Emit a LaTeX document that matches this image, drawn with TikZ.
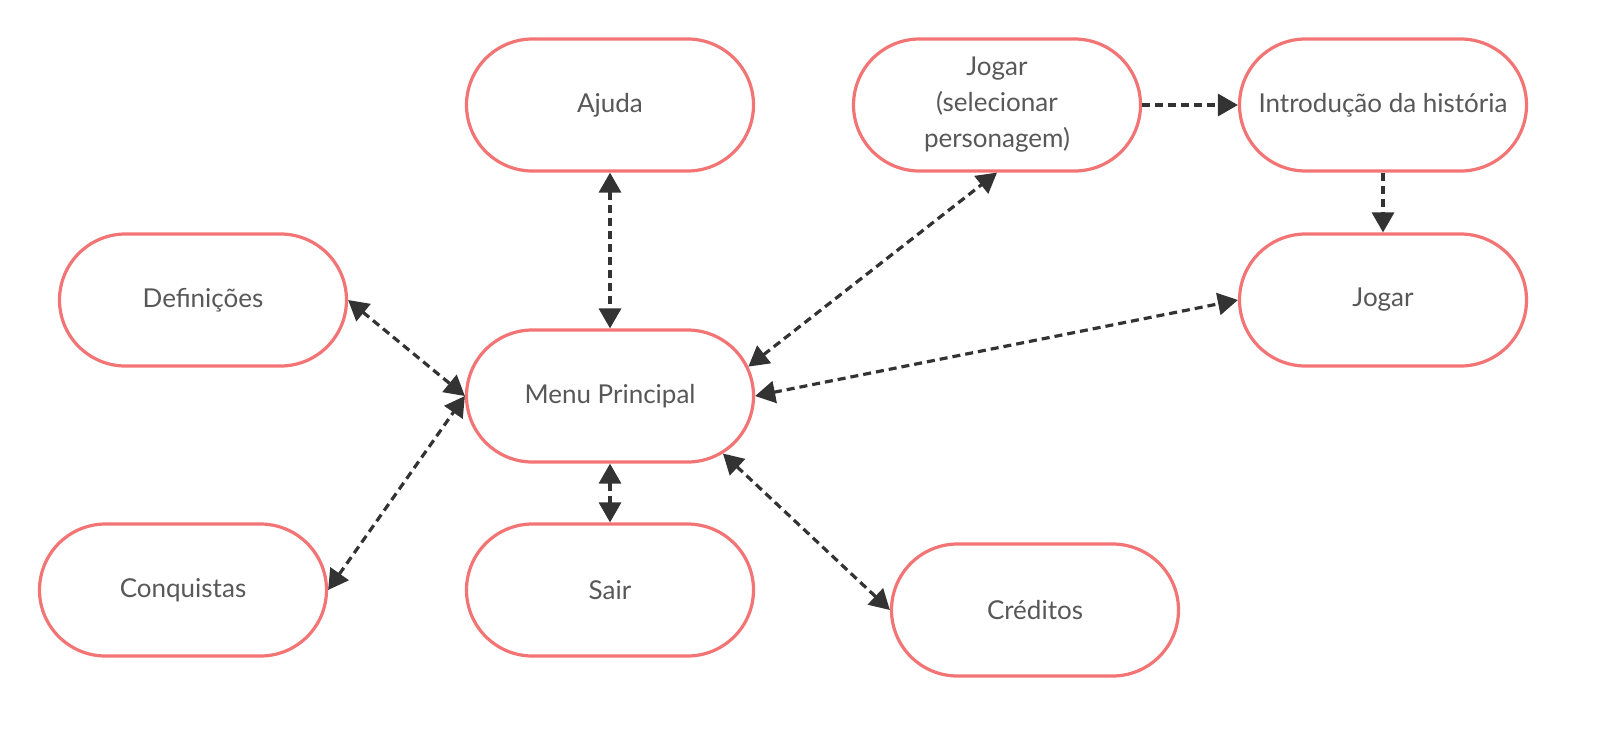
\documentclass[tikz,border=0pt]{standalone}
\usepackage{fontspec}
\setmainfont{Lato}
\usetikzlibrary{shapes.misc}
\usetikzlibrary{arrows.meta}
\definecolor{emph1}{RGB}{242,116,116}
\definecolor{emph2}{RGB}{51,51,51}
\definecolor{txt}{RGB}{88,88,88}

\begin{document}
\begin{tikzpicture}[x=0.5pt,y=-0.5pt,
    state/.style={rounded rectangle,draw=emph1,line width=1.6pt,fill=white,
      minimum width=143.5pt,minimum height=66pt,inner sep=0pt,align=center,
      text=txt,font=\fontsize{13}{18}\selectfont},
    link/.style={emph2,line width=1.6pt,dash pattern=on 4pt off 2.5pt,
      {Triangle[length=10pt,width=11pt]}-{Triangle[length=10pt,width=11pt]}},
    flow/.style={emph2,line width=1.6pt,dash pattern=on 4pt off 2.5pt,
      -{Triangle[length=10pt,width=11pt]}}]
  \def\bgx{0}
  \def\bgxx{1620}
  \def\bgy{0}
  \def\bgyy{740}
  \useasboundingbox (\bgx,\bgy)rectangle(\bgxx,\bgyy);
        \node[state] (ajuda) at (610,105) {Ajuda};
        \node[state] (jogsel) at (997,105) {Jogar\\(selecionar\\personagem)};
        \node[state] (intro) at (1383,105) {Introdução da história};
        \node[state] (defin) at (203,300) {Definições};
        \node[state] (jogar) at (1383,300) {Jogar};
        \node[state] (menu) at (610,396) {Menu Principal};
        \node[state] (conq) at (183,590) {Conquistas};
        \node[state] (sair) at (610,590) {Sair};
        \node[state] (cred) at (1035,610) {Créditos};
        % ligacoes do menu
        \draw[link] (ajuda.south) -- (menu.north);
        \draw[link] (defin.east) -- (menu.west);
        \draw[link] (conq.east) -- (menu.west);
        \draw[link] (menu.south) -- (sair.north);
        \draw[link] (menu.12) -- (jogsel.south);
        \draw[link] (menu.east) -- (jogar.west);
        \draw[link] (menu.-27) -- (cred.west);
        % fluxo do jogo
        \draw[flow] (jogsel.east) -- (intro.west);
        \draw[flow] (intro.south) -- (jogar.north);
\end{tikzpicture}
\end{document}
